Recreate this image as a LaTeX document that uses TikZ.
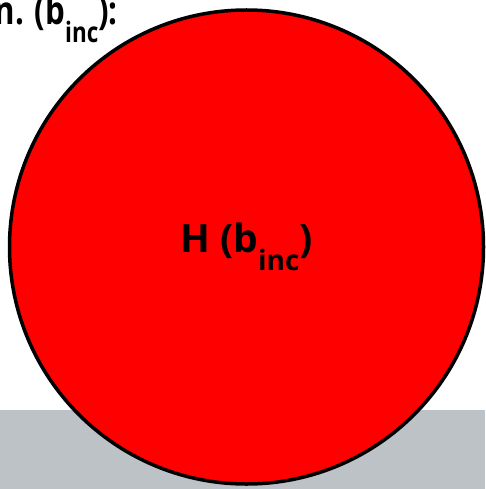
\documentclass[tikz,border=0pt]{standalone}
\usepackage{graphicx}
\usepackage{fontspec}
\setmainfont{Open Sans}
\definecolor{c1}{HTML}{000000}
\definecolor{c2}{HTML}{FF0000}
\definecolor{groundcolor}{HTML}{BDC2C6}
% dropped subscript, as set in the drawing
\newcommand{\lowsub}[1]{\raisebox{-0.46em}{\scalebox{0.72}{#1}}}

\begin{document}
\begin{tikzpicture}[
    x=1pt, y=-1pt,
    every node/.style={font=\fontsize{39}{43}\selectfont\bfseries, text=c1, inner sep=0pt},
    ground/.style={fill=groundcolor},
    ball/.style={circle, draw=c1, fill=c2, line width=3.5pt,
                 minimum size=474pt, inner sep=0pt},
]
\useasboundingbox (0,0) rectangle (485,489);

% floor strip under the ball
\fill[ground] (0,410) rectangle (485,489);

\node[ball] (hball) at (246.5,247) {H (b\lowsub{inc})};

% narrowed label, cut by the left edge
\node[anchor=base east] (hlabel) at (118,25)
    {\scalebox{0.8}[1]{n. (b\lowsub{inc}):}};
\end{tikzpicture}
\end{document}
